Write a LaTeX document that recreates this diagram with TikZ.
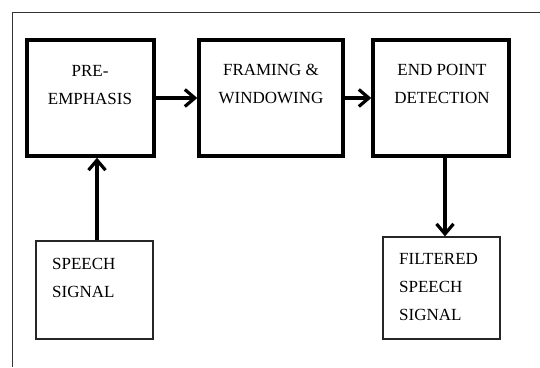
\documentclass[tikz,border=0pt]{standalone}
\usepackage{fontspec}
\setmainfont{Liberation Serif}
\usetikzlibrary{arrows.meta,calc}
\begin{document}
\begin{tikzpicture}[x=1pt,y=-1pt,
  thickbox/.style={draw=black,line width=3.4pt,rectangle,inner sep=0pt},
  thinbox/.style={draw=black!85,line width=1.3pt,rectangle,inner sep=0pt},
  lbl/.style={font=\fontsize{17}{28}\selectfont,inner sep=0pt,text=black},
  flow/.style={line width=3.2pt,-{Straight Barb[length=10pt,width=17pt,line width=3.2pt]}}]
\useasboundingbox (0,0) rectangle (540,367);
\fill[white] (0,0) rectangle (540,367);
% outer frame (top and left only)
\draw[line width=1.3pt,black!80] (540,12.5) -- (12.5,12.5) -- (12.5,367);
% boxes
\node[thickbox,minimum width=127pt,minimum height=116pt] (pre) at (90.5,98) {};
\node[thickbox,minimum width=144pt,minimum height=116pt] (frm) at (271,98) {};
\node[thickbox,minimum width=136pt,minimum height=116pt] (epd) at (441,98) {};
\node[thinbox,minimum width=117pt,minimum height=98pt] (sp) at (94.5,290) {};
\node[thinbox,minimum width=117pt,minimum height=102pt] (fs) at (441.5,288) {};
% texts
\node[lbl,align=center] (tpre) at (90,85) {PRE-\\EMPHASIS};
\node[lbl,align=center] (tfrm) at (271,84) {FRAMING \&\\WINDOWING};
\node[lbl,align=center] (tepd) at (442,84) {END POINT\\DETECTION};
\node[lbl,align=left,anchor=west] (tsp) at (52,277.5) {SPEECH\\SIGNAL};
\node[lbl,align=left,anchor=west] (tfs) at (399,287.5) {FILTERED\\SPEECH\\SIGNAL};
% connectors
\coordinate (upx) at (97,0);
\coordinate (dnx) at (445,0);
\draw[flow] (pre.east) -- (frm.west);
\draw[flow] (frm.east) -- (epd.west);
\draw[flow] (sp.north -| upx) -- (pre.south -| upx);
\draw[flow] (epd.south -| dnx) -- (fs.north -| dnx);
\end{tikzpicture}
\end{document}
